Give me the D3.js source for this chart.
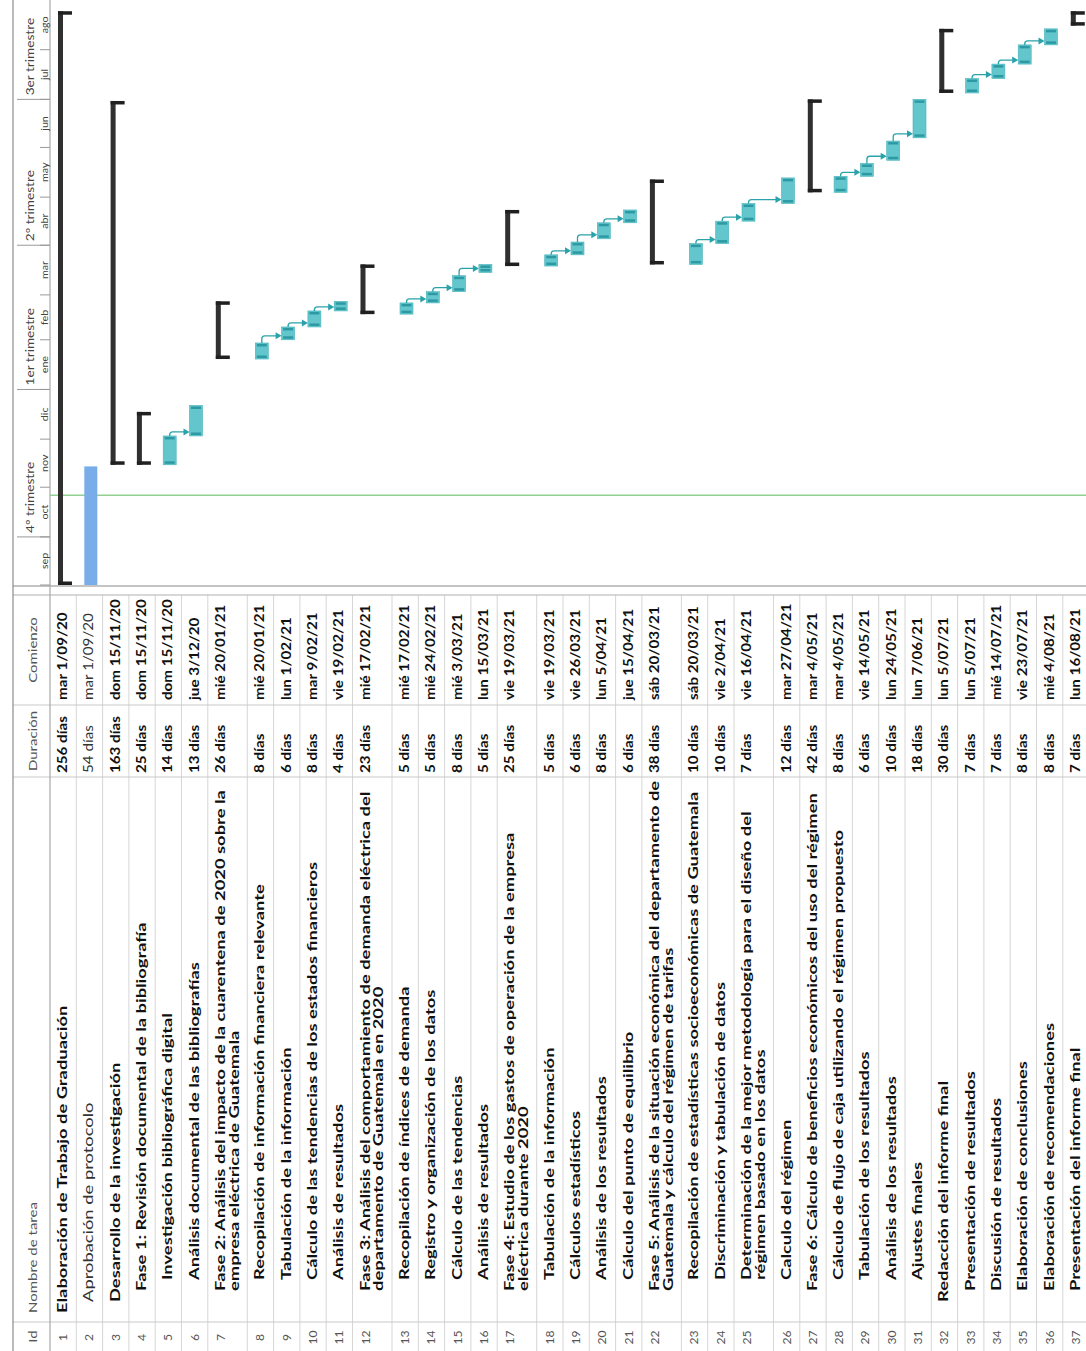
<!DOCTYPE html>
<html>
<head>
<meta charset="utf-8">
<script src="https://cdn.jsdelivr.net/npm/d3@7"></script>
<style>
  html, body { margin: 0; padding: 0; background: #fff; }
  svg { display: block; }
  text { font-family: Lato, "Open Sans", "DejaVu Sans", sans-serif; }
</style>
</head>
<body>
<svg id="chart" width="1086" height="1351"></svg>
<script>
// ---------------- data ----------------
const taskIds = d3.range(1, 38);

const taskNames = [
  "Elaboración de Trabajo de Graduación",
  "Aprobación de protocolo",
  "Desarrollo de la investigación",
  "Fase 1: Revisión documental de la bibliografía",
  "Investigación bibliográfica digital",
  "Análisis documental de las bibliografías",
  "Fase 2: Análisis del impacto de la cuarentena de 2020 sobre la\nempresa eléctrica de Guatemala",
  "Recopilación de información financiera relevante",
  "Tabulación de la información",
  "Cálculo de las tendencias de los estados financieros",
  "Análisis de resultados",
  "Fase 3: Análisis del comportamiento de demanda eléctrica del\ndepartamento de Guatemala en 2020",
  "Recopilación de índices de demanda",
  "Registro y organización de los datos",
  "Cálculo de las tendencias",
  "Análisis de resultados",
  "Fase 4: Estudio de los gastos de operación de la empresa\neléctrica durante 2020",
  "Tabulación de la información",
  "Cálculos estadísticos",
  "Análisis de los resultados",
  "Cálculo del punto de equilibrio",
  "Fase 5: Análisis de la situación económica del departamento de\nGuatemala y cálculo del régimen de tarifas",
  "Recopilación de estadísticas socioeconómicas de Guatemala",
  "Discriminación y tabulación de datos",
  "Determinación de la mejor metodología para el diseño del\nrégimen basado en los datos",
  "Calculo del régimen",
  "Fase 6: Cálculo de beneficios económicos del uso del régimen",
  "Cálculo de flujo de caja utilizando el régimen propuesto",
  "Tabulación de los resultados",
  "Análisis de los resultados",
  "Ajustes finales",
  "Redacción del informe final",
  "Presentación de resultados",
  "Discusión de resultados",
  "Elaboración de conclusiones",
  "Elaboración de recomendaciones",
  "Presentación del informe final"
];

const outlineLevels = [0,1,1,2,3,3,2,3,3,3,3,2,3,3,3,3,2,3,3,3,3,2,3,3,3,3,2,3,3,3,3,1,2,2,2,2,2];

const barKinds = [
  "summary","plain","summary","summary","task","task","summary","task","task","task",
  "task","summary","task","task","task","task","summary","task","task","task",
  "task","summary","task","task","task","task","summary","task","task","task",
  "task","summary","task","task","task","task","summary"
];

const durationDays = [256,54,163,25,14,13,26,8,6,8,4,23,5,5,8,5,25,5,6,8,6,38,10,10,7,12,42,8,6,10,18,30,7,7,8,8,7];

const startLabels = [
  "mar 1/09/20","mar 1/09/20","dom 15/11/20","dom 15/11/20","dom 15/11/20","jue 3/12/20",
  "mié 20/01/21","mié 20/01/21","lun 1/02/21","mar 9/02/21","vie 19/02/21","mié 17/02/21",
  "mié 17/02/21","mié 24/02/21","mié 3/03/21","lun 15/03/21","vie 19/03/21","vie 19/03/21",
  "vie 26/03/21","lun 5/04/21","jue 15/04/21","sáb 20/03/21","sáb 20/03/21","vie 2/04/21",
  "vie 16/04/21","mar 27/04/21","mar 4/05/21","mar 4/05/21","vie 14/05/21","lun 24/05/21",
  "lun 7/06/21","lun 5/07/21","lun 5/07/21","mié 14/07/21","vie 23/07/21","mié 4/08/21",
  "lun 16/08/21"
];

// finish-to-start links (predecessor id, successor id)
const links = [[5,6],[8,9],[9,10],[10,11],[13,14],[14,15],[15,16],[18,19],[19,20],[20,21],
               [23,24],[24,25],[25,26],[28,29],[29,30],[30,31],[33,34],[34,35],[35,36]];

const monthStarts = ["2020-09-01","2020-10-01","2020-11-01","2020-12-01","2021-01-01","2021-02-01",
                     "2021-03-01","2021-04-01","2021-05-01","2021-06-01","2021-07-01","2021-08-01"];
const monthLabels = ["sep","oct","nov","dic","ene","feb","mar","abr","may","jun","jul","ago"];
const quarterStarts = ["2020-10-01","2021-01-01","2021-04-01","2021-07-01"];
const quarterLabels = ["4º trimestre","1er trimestre","2º trimestre","3er trimestre"];
const timelineDomain = ["2020-09-01","2021-09-01"];
const statusDate = "2020-10-27";

const columnHeaders = ["Id","Nombre de tarea","Duración","Comienzo"];

// ---------------- layout (drawn in landscape, then turned a quarter) ----------------
const LONG = 1351, SHORT = 1086;
const headTop = 13, tierSplit = 38, headBottom = 50;
const colId = [0, 29], colName = [29, 574], colDur = [574, 646], colStart = [646, 756];
const ganttEdge = 765;
const singleH = 26.3, doubleH = 39.5;

// the sheet uses a wide, stretched type; each text kind gets its own horizontal stretch
const TYPE = {
  name:   {size: 13.5, sx: 1.36},
  cell:   {size: 13,   sx: 1.17},
  head:   {size: 12,   sx: 1.25},
  id:     {size: 11,   sx: 1.1},
  quarter:{size: 10.5, sx: 1.3},
  month:  {size: 10,   sx: 1.07}
};

const parseIso = d3.timeParse("%Y-%m-%d");
const parseStart = d3.timeParse("%d/%m/%y");

function finishOf(start, days) {
  let d = start, n = 1;
  while (n < days) {
    d = d3.timeDay.offset(d, 1);
    const wd = d.getDay();
    if (wd !== 0 && wd !== 6) n++;
  }
  return d3.timeDay.offset(d, 1);
}

const rows = [];
let acc = headBottom;
taskIds.forEach((id, i) => {
  const lines = taskNames[i].split("\n");
  const h = lines.length > 1 ? doubleH : singleH;
  const start = parseStart(startLabels[i].split(" ")[1]);
  rows.push({
    id, lines, top: acc, h,
    level: outlineLevels[i], kind: barKinds[i],
    dur: durationDays[i], startLabel: startLabels[i],
    start, end: finishOf(start, durationDays[i])
  });
  acc += h;
});
const byId = new Map(rows.map(r => [r.id, r]));

const x = d3.scaleTime()
  .domain(timelineDomain.map(parseIso))
  .range([766, LONG]);

const svg = d3.select("#chart");
const g = svg.append("g").attr("transform", `translate(0,${LONG}) rotate(-90)`);

// places a text at (px, py) with the stretch of its kind; anchor applies before stretching
function putText(sel, kind, px, py, anchor) {
  const t = TYPE[kind];
  return sel.append("text")
    .attr("transform", `translate(${px},${py}) scale(${t.sx},1)`)
    .attr("text-anchor", anchor || "start")
    .attr("font-size", t.size);
}

// ---------------- table ----------------
const grid = g.append("g");
rows.forEach(r => {
  grid.append("line")
    .attr("x1", 0).attr("x2", colStart[1])
    .attr("y1", r.top + r.h).attr("y2", r.top + r.h)
    .attr("stroke", "#d6d6d6").attr("stroke-width", 1);
});
[colId[1], colName[1], colDur[1]].forEach(cx => {
  grid.append("line")
    .attr("x1", cx).attr("x2", cx)
    .attr("y1", headTop).attr("y2", SHORT)
    .attr("stroke", "#c9c9c9").attr("stroke-width", 1);
});
// panel divider
[colStart[1], ganttEdge].forEach((cx, k) => {
  grid.append("line")
    .attr("x1", cx).attr("x2", cx)
    .attr("y1", headTop).attr("y2", SHORT)
    .attr("stroke", k ? "#8a8a8a" : "#b0b0b0").attr("stroke-width", 1.2);
});
// outer top border and header bottom
grid.append("line").attr("x1", 0).attr("x2", LONG).attr("y1", headTop).attr("y2", headTop)
  .attr("stroke", "#8c8c8c").attr("stroke-width", 1.2);
grid.append("line").attr("x1", 0).attr("x2", LONG).attr("y1", headBottom).attr("y2", headBottom)
  .attr("stroke", "#a8a8a8").attr("stroke-width", 1.2);

// column headers
const headPos = [
  {x: (colId[0] + colId[1]) / 2, anchor: "middle"},
  {x: colName[0] + 9, anchor: "start"},
  {x: (colDur[0] + colDur[1]) / 2, anchor: "middle"},
  {x: (colStart[0] + colStart[1]) / 2, anchor: "middle"}
];
const heads = g.append("g");
columnHeaders.forEach((h, i) => {
  putText(heads, "head", headPos[i].x, 37, headPos[i].anchor).attr("fill", "#555").text(h);
});

// cells
const cells = g.append("g");
rows.forEach(r => {
  const weight = r.kind === "plain" ? 400 : 700;
  const ink = r.kind === "plain" ? "#333" : "#111";
  putText(cells, "id", (colId[0] + colId[1]) / 2 - 1, r.top + 17, "middle")
    .attr("fill", "#555").text(r.id);
  const t = putText(cells, "name", colName[0] + 9 + r.level * 11, r.top + 17)
    .attr("font-weight", weight).attr("fill", ink);
  r.lines.forEach((ln, k) => {
    t.append("tspan").attr("x", 0).attr("y", k * 14).text(ln);
  });
  putText(cells, "cell", colDur[0] + 4, r.top + 17)
    .attr("font-weight", weight).attr("fill", ink).text(`${r.dur} días`);
  putText(cells, "cell", colStart[0] + 5, r.top + 17)
    .attr("font-weight", weight).attr("fill", ink).text(r.startLabel);
});

// ---------------- timescale ----------------
const ts = g.append("g");
const months = monthStarts.map(parseIso);
ts.selectAll("line.m").data(months).join("line")
  .attr("x1", d => x(d)).attr("x2", d => x(d))
  .attr("y1", tierSplit + 2).attr("y2", headBottom)
  .attr("stroke", "#999").attr("stroke-width", 1);
months.forEach((d, i) => {
  putText(ts, "month", (x(d) + x(d3.timeMonth.offset(d, 1))) / 2, 48, "middle")
    .attr("fill", "#444").text(monthLabels[i]);
});
const quarters = quarterStarts.map(parseIso);
ts.selectAll("line.q").data(quarters).join("line")
  .attr("x1", d => x(d)).attr("x2", d => x(d))
  .attr("y1", headTop + 4).attr("y2", headBottom)
  .attr("stroke", "#999").attr("stroke-width", 1);
quarters.forEach((d, i) => {
  putText(ts, "quarter", x(d) + 4, 34).attr("fill", "#444").text(quarterLabels[i]);
});

// ---------------- gantt bars ----------------
const bars = g.append("g");

// status date line
bars.append("line")
  .attr("x1", x(parseIso(statusDate))).attr("x2", x(parseIso(statusDate)))
  .attr("y1", headBottom).attr("y2", SHORT)
  .attr("stroke", "#92d092").attr("stroke-width", 1.3);

rows.forEach(r => {
  const xs = x(r.start), xe = x(r.end);
  const y0 = r.top + 8;
  if (r.kind === "summary") {
    bars.append("rect").attr("x", xs).attr("y", y0).attr("width", xe - xs).attr("height", 5)
      .attr("fill", "#303030");
    [xs, xe - 3.5].forEach(cx => {
      bars.append("rect").attr("x", cx).attr("y", y0).attr("width", 3.5).attr("height", 14)
        .attr("fill", "#202020");
    });
  } else if (r.kind === "plain") {
    bars.append("rect").attr("x", xs).attr("y", y0).attr("width", xe - xs).attr("height", 13)
      .attr("fill", "#79ade9");
  } else {
    bars.append("rect").attr("x", xs).attr("y", y0).attr("width", xe - xs).attr("height", 13)
      .attr("fill", "#63c6cd").attr("stroke", "#46b3bb").attr("stroke-width", 0.6);
    [xs + 1, xe - 3.5].forEach(cx => {
      bars.append("rect").attr("x", cx).attr("y", y0 + 1.5).attr("width", 2.5).attr("height", 10)
        .attr("fill", "#2d9aa3");
    });
  }
});

// links
const linkColor = "#2aa2aa";
links.forEach(([a, b]) => {
  const p = byId.get(a), s = byId.get(b);
  const xe = x(p.end), mid = p.top + 14.5;
  const vx = Math.max(x(s.start), xe) + 4;
  const tip = s.top + 8;
  const path = d3.path();
  path.moveTo(xe, mid);
  path.lineTo(vx - 3, mid);
  path.quadraticCurveTo(vx, mid, vx, mid + 3);
  path.lineTo(vx, tip - 5);
  bars.append("path").attr("d", path.toString())
    .attr("fill", "none").attr("stroke", linkColor).attr("stroke-width", 1.3);
  bars.append("path")
    .attr("d", `M${vx - 3.5},${tip - 6}L${vx + 3.5},${tip - 6}L${vx},${tip}Z`)
    .attr("fill", linkColor);
});
</script>
</body>
</html>
